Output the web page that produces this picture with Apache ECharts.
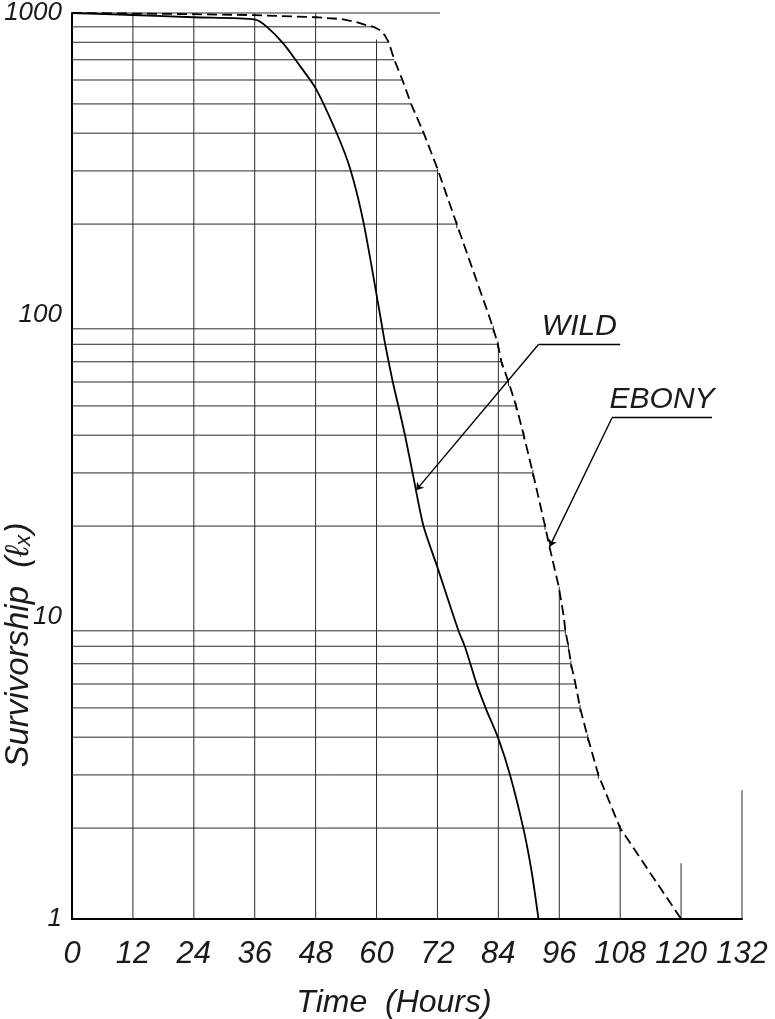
<!DOCTYPE html>
<html><head><meta charset="utf-8">
<script src="https://cdn.jsdelivr.net/npm/echarts@6/dist/echarts.min.js"></script>
<style>html,body{margin:0;padding:0;background:#fff}#c{width:775px;height:1019px}</style>
</head><body><div id="c"></div>
<script>
// ---- data ----
const hourTicks = [0,12,24,36,48,60,72,84,96,108,120,132];
const yTickLabels = ['1','10','100','1000'];

// Wild type survivorship (solid line): [hour, lx]
const wildData = [
  [0,1000],[12,985],[24,968],[36.1,951],[38.4,900],[41.65,792],[44.94,667],[48.04,562],
  [52.18,399],[54.8,305],[57.42,203],[60.7,100],[61.7,80],[63.2,60],[64.3,50],
  [65.6,40],[67.1,30],[69.25,20],[72,14.6],[76.15,9.0],[77.5,7.9],[79.8,5.95],
  [81.7,4.9],[83.9,4.0],[86.3,3.0],[89,1.97],[90.6,1.42],[91.9,1.0]
];
// Ebony survivorship (dashed line): [hour, lx]
const ebonyData = [
  [0,1000],[12,996],[24,991],[36,984],[48,968],[53,955],[56,933],[58,912],
  [59.4,900],[60.7,877],[61.6,845],[62.4,800],[63.5,700],[65.1,600],[66.8,500],
  [69.3,400],[72,305],[75.8,200],[82.1,100],[83,90],[83.9,80],[84.6,70],[86,60],
  [87.5,50],[89,40],[90.8,30],[93.2,20],[94.1,17],[95.9,12.6],[96.9,10],[97.2,9],
  [97.8,8],[98.3,7],[99.2,6],[100.1,5],[101.6,4],[103.7,3],[108,2],[120,1]
];
// hand-ruled graph paper: horizontal rules (lx levels) stop at the ebony curve
const hRuleLevels = [2,3,4,5,6,7,8,9,20,30,40,50,60,70,80,90,200,300,400,500,600,700,800,900];
const topRuleEnd = 72.5;          // hour where the 1000 rule stops
// vertical rules: lx level where each hour rule stops
const vRuleTop = [1000,1000,1000,1000,1000,817,305,81,12.6,2.0,1.53,2.67];

// annotations (hour, lx)
const wildLabel = {text:'WILD', from:[91.9,79.9], to:[108,79.9], target:[67.8,26.3]};
const ebonyLabel = {text:'EBONY', from:[106.4,45.7], to:[126.1,45.7], target:[94.1,17.1]};

// ---- build ----
function ebonyHourAt(v){
  for (let i=0;i<ebonyData.length-1;i++){
    const a=ebonyData[i], b=ebonyData[i+1];
    if (a[1]>=v && b[1]<=v){
      if (a[1]===b[1]) return a[0];
      const t=(Math.log(a[1])-Math.log(v))/(Math.log(a[1])-Math.log(b[1]));
      return a[0]+t*(b[0]-a[0]);
    }
  }
  return 0;
}
const ruleData = [];
hRuleLevels.forEach(v => ruleData.push([0, v, ebonyHourAt(v), v, v<=200 ? 1 : 0]));
ruleData.push([0, 1000, topRuleEnd, 1000, 0]);
hourTicks.forEach((h,i) => { if (h>0) ruleData.push([h, 1, h, vRuleTop[i], 0]); });

const FONT = "'Liberation Sans', 'DejaVu Sans', sans-serif";
const INK = '#1a1a1a';

function annot(a){
  return [
    [{coord:a.from, symbol:'none'},
     {coord:a.to, symbol:'none', label:{show:true, formatter:a.text, position:'insideMiddleTop', distance:3,
       fontFamily:FONT, fontStyle:'italic', fontSize:30, color:INK}}],
    [{coord:a.from, symbol:'none'},{coord:a.target, symbol:'arrow', symbolSize:7}]
  ];
}

const chart = echarts.init(document.getElementById('c'), null, {renderer:'canvas'});
chart.setOption({
  animation:false,
  backgroundColor:'#fff',
  grid:{left:72, right:33, top:13, bottom:100, containLabel:false},
  xAxis:{
    type:'value', min:0, max:132, interval:12,
    axisLine:{show:true, onZero:false, lineStyle:{color:'#000', width:2}},
    axisTick:{show:false}, splitLine:{show:false},
    axisLabel:{margin:20, fontFamily:FONT, fontStyle:'italic', fontSize:31, color:INK,
      formatter:v => hourTicks.indexOf(v)>=0 ? String(v) : ''}
  },
  yAxis:{
    type:'log', logBase:10, min:1, max:1000,
    axisLine:{show:true, lineStyle:{color:'#000', width:2}},
    axisTick:{show:false}, splitLine:{show:false}, minorSplitLine:{show:false},
    axisLabel:{margin:10, fontFamily:"'Liberation Sans Narrow', 'Liberation Sans', sans-serif",
      fontStyle:'italic', fontSize:26, color:INK, padding:[4,0,0,0],
      formatter:v => { const s=String(Math.round(v)); return yTickLabels.indexOf(s)>=0 ? s : ''; }}
  },
  graphic:[
    {type:'text', x:394, y:1003, style:{text:'Time  (Hours)', font:"italic 32px 'Liberation Sans', sans-serif",
      fill:INK, textAlign:'center', textVerticalAlign:'middle'}},
    {type:'text', x:19, y:645, rotation:Math.PI/2, style:{text:'Survivorship  (ℓₓ)',
      font:"italic 33px 'Liberation Sans', 'DejaVu Sans', sans-serif",
      fill:INK, textAlign:'center', textVerticalAlign:'middle'}}
  ],
  series:[
    {
      type:'custom', name:'rules', silent:true, z:1,
      encode:{x:[0,2], y:[1,3]},
      data:ruleData,
      renderItem:(params, api) => {
        const p1 = api.coord([api.value(0), api.value(1)]);
        const p2 = api.coord([api.value(2), api.value(3)]);
        const st = {stroke:'#2a2a2a', lineWidth:1};
        const ch = [{type:'line', shape:{x1:p1[0],y1:p1[1],x2:p2[0],y2:p2[1]}, style:st}];
        if (api.value(4)) ch.push({type:'line', shape:{x1:p2[0],y1:p2[1]-3,x2:p2[0],y2:p2[1]+4}, style:st});
        return {type:'group', children:ch};
      }
    },
    {
      type:'line', name:'Wild', data:wildData, z:3,
      smooth:0.25, showSymbol:false, symbol:'none',
      lineStyle:{color:'#000', width:1.8},
      markLine:{silent:true, symbol:['none','none'], animation:false,
        lineStyle:{color:'#000', width:1.4, type:'solid'},
        label:{show:false},
        data:annot(wildLabel)}
    },
    {
      type:'line', name:'Ebony', data:ebonyData, z:3,
      smooth:false, showSymbol:false, symbol:'none',
      lineStyle:{color:'#000', width:1.8, type:[10,5]},
      markLine:{silent:true, symbol:['none','none'], animation:false,
        lineStyle:{color:'#000', width:1.4, type:'solid'},
        label:{show:false},
        data:annot(ebonyLabel)}
    }
  ]
});
</script></body></html>
